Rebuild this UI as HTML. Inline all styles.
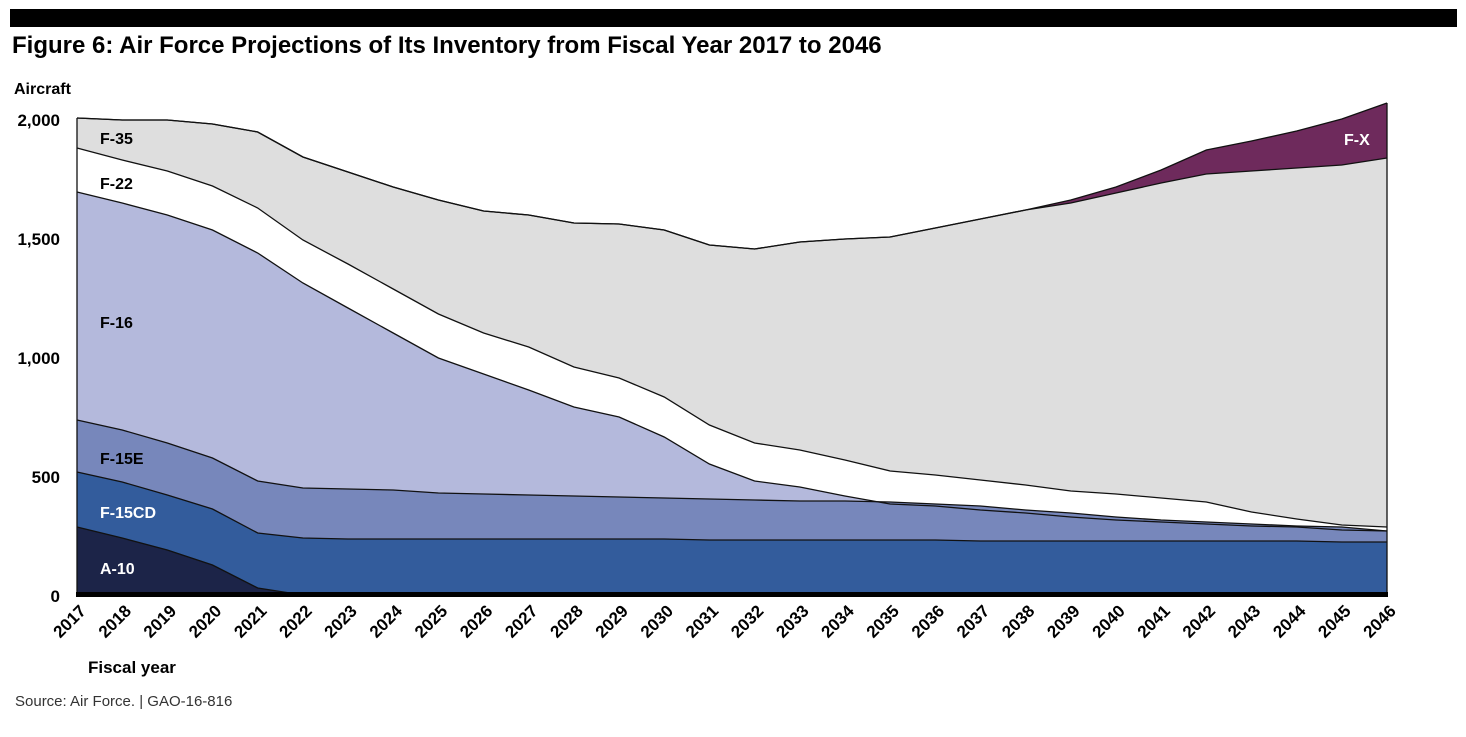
<!DOCTYPE html>
<html><head><meta charset="utf-8"><style>
body{margin:0;background:#fff;width:1466px;height:732px;overflow:hidden;font-family:"Liberation Sans",Arial,sans-serif}
</style></head><body>
<svg id="s" width="1466" height="732" xmlns="http://www.w3.org/2000/svg" font-family="Liberation Sans, Arial, sans-serif">
<rect x="10" y="9" width="1447" height="18" fill="#000"/>
<text x="12" y="53" font-size="24" font-weight="bold">Figure 6: Air Force Projections of Its Inventory from Fiscal Year 2017 to 2046</text>
<text x="14" y="94" font-size="16" font-weight="bold">Aircraft</text>
<g font-size="17" font-weight="bold" text-anchor="end">
<text x="60" y="126">2,000</text><text x="60" y="245">1,500</text><text x="60" y="364">1,000</text><text x="60" y="483">500</text><text x="60" y="602">0</text>
</g>
<g id="areas"></g>
<rect x="76" y="592" width="1312" height="5" fill="#000"/>
<g id="xl" font-size="17" font-weight="bold"></g>
<g font-size="16" font-weight="bold">
<text x="100" y="144">F-35</text>
<text x="100" y="189" >F-22</text>
<text x="100" y="328">F-16</text>
<text x="100" y="464">F-15E</text>
<text x="100" y="518" fill="#fff">F-15CD</text>
<text x="100" y="574" fill="#fff">A-10</text>
<text x="1344" y="145" fill="#fff">F-X</text>
</g>
<text x="88" y="673" font-size="17" font-weight="bold">Fiscal year</text>
<text x="15" y="706" font-size="15" fill="#333">Source: Air Force.  |  GAO-16-816</text>
</svg>
<script>
var B=Array(30).fill(595);
var A10=[527,538,550,565,588,595,595,595,595,595,595,595,595,595,595,595,595,595,595,595,595,595,595,595,595,595,595,595,595,595];
var CD=[472,482,495,509,533,538,539,539,539,539,539,539,539,539,540,540,540,540,540,540,541,541,541,541,541,541,541,541,542,542];
var E=[420,430,443,458,481,488,489,490,493,494,495,496,497,498,499,500,501,501,502,504,506,510,513,517,520,522,524,526,527,531];
var F16=[192,203,215,230,253,283,308,333,358,374,390,407,417,437,464,481,487,496,504,506,510,513,517,520,522,524,526,527,530,531];
var F22=[148,160,171,186,208,240,264,289,314,333,347,367,378,397,425,443,450,460,471,475,480,485,491,494,498,502,512,519,525,527];
var F35=[118,120,120,124,132,157,172,187,200,211,215,223,224,230,245,249,242,239,237,228,219,210,203,193,183,174,171,168,165,158];
var FX=F35.slice();FX[22]=200;FX[23]=187;FX[24]=170;FX[25]=150;FX[26]=141;FX[27]=131;FX[28]=119;FX[29]=103;
function X(i){return 77+i*(1310/29);}
var layers=[[FX,F35,"#6e2a5c"],[F35,F22,"#dedede"],[F22,F16,"#ffffff"],[F16,E,"#b4b9dc"],[E,CD,"#7787bb"],[CD,A10,"#335c9c"],[A10,B,"#1c2448"]];
var g=document.getElementById("areas"),h="";
layers.forEach(function(l){var t=l[0],b=l[1],d="M";
for(var i=0;i<30;i++)d+=X(i).toFixed(1)+","+t[i]+" L";
for(var i=29;i>=0;i--)d+=X(i).toFixed(1)+","+b[i]+(i?" L":" Z");
h+='<path d="'+d+'" fill="'+l[2]+'" stroke="none"/>';});
[FX,F35,F22,F16,E,CD,A10].forEach(function(t){var d="M";for(var i=0;i<30;i++)d+=X(i).toFixed(1)+","+t[i]+(i<29?" L":"");h+='<path d="'+d+'" fill="none" stroke="#111" stroke-width="1.3"/>';});
h+='<line x1="77" y1="118" x2="77" y2="595" stroke="#111" stroke-width="1.3"/><line x1="1387" y1="103" x2="1387" y2="595" stroke="#111" stroke-width="1.3"/>';
g.innerHTML=h;
var xl="";for(var i=0;i<30;i++){var x=X(i)+10,y=612;xl+='<text transform="translate('+x.toFixed(1)+','+y+') rotate(-45)" text-anchor="end">'+(2017+i)+'</text>';}
document.getElementById("xl").innerHTML=xl;
</script>
</body></html>
